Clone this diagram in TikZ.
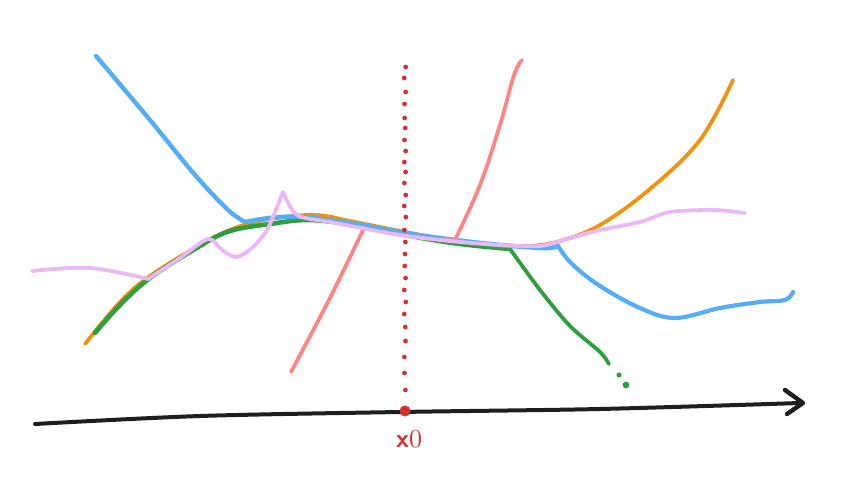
\documentclass[tikz,border=0pt]{standalone}
\usepackage{fontspec}
\definecolor{cblue}{HTML}{55AEF5}
\definecolor{corange}{HTML}{F0920E}
\definecolor{cgreen}{HTML}{2E9E3E}
\definecolor{csalmon}{HTML}{FF8585}
\definecolor{clav}{HTML}{EAB8F6}
\definecolor{cred}{HTML}{D8302E}
\definecolor{cblack}{HTML}{1E1E1E}
\tikzset{
  curve/.style={line width=3.8pt, line cap=round, line join=round},
}
\begin{document}
\begin{tikzpicture}[x=1pt,y=-1pt]
\useasboundingbox (0,0) rectangle (865,486);
% axis
\draw[cblack, line width=4pt, line cap=round] plot[smooth] coordinates {(35,424) (200,416) (400,412) (600,409) (800,403)};
\draw[cblack, line width=4.4pt, line cap=round, line join=round] (785,390) -- (803,403) -- (787,414);
% orange
\draw[corange, curve] plot[smooth, tension=0.6] coordinates {(85,344) (120,302) (150,276) (200,245) (235,228) (270,219) (315,215) (350,221) (400,231) (450,240) (500,245) (530,246) (560,241) (600,225) (650,189) (700,140) (733,80)};
% green
\draw[cgreen, curve, line width=4.6pt] plot[smooth, tension=0.6] coordinates {(95,333) (120,305) (150,278) (200,246) (230,231) (270,224) (310,220) (360,226) (410,236) (460,244) (510,249)};
\draw[cgreen, curve] plot[smooth, tension=0.5] coordinates {(510,249) (540,290) (570,326) (600,352) (609,364)};
\fill[cgreen] (619,375) circle (2.6pt);
\fill[cgreen] (626,385) circle (3.4pt);
% blue
\draw[cblue, curve, line width=4.4pt] plot[smooth, tension=0.5] coordinates {(96,56) (150,120) (195,175) (228,210) (245,222)};
\draw[cblue, curve, line width=4.6pt] plot[smooth, tension=0.6] coordinates {(245,222) (270,218) (300,217) (350,223) (405,233) (455,240) (500,245) (545,248) (558,246)};
\draw[cblue, curve, line width=4.2pt] plot[smooth, tension=0.6] coordinates {(558,246) (572,264) (600,286) (640,308) (675,318) (720,308) (760,302) (785,300) (793,292)};
% salmon
\draw[csalmon, curve] plot[smooth, tension=0.5] coordinates {(291,372) (330,298) (364,228)};
\draw[csalmon, curve, line width=2.4pt] plot[smooth] coordinates {(364,228) (410,236) (455,240)};
\draw[csalmon, curve] plot[smooth, tension=0.6] coordinates {(455,240) (480,185) (500,125) (514,75) (522,60)};
% lavender
\draw[clav, curve] plot[smooth, tension=0.6] coordinates {(32,271) (90,268) (148,279)};
\draw[clav, curve] plot[smooth, tension=0.5] coordinates {(148,279) (180,258) (208,239) (222,250) (236,257) (252,248) (268,228) (283,192)};
\draw[clav, curve] plot[smooth, tension=0.5] coordinates {(283,192) (297,215) (330,222) (400,235) (450,241) (500,245) (540,246) (570,238) (600,230) (640,222) (670,212) (715,210) (745,213)};
% red dotted line
\foreach \yy in {67,78,92,104,118,128,140,151,162,172,183,195,206,217,230,242,254,266,278,290,302,314,327,341,357,373,390}
  \fill[cred] ({405+0.8*sin(\yy*17)},\yy) circle (2.4pt);
\fill[cred] (405,411) circle (5.5pt);
\node[cred, scale=2.6] (xlabel) at (409,439) {\textbf{\textsf{x}}0};
\end{tikzpicture}
\end{document}
